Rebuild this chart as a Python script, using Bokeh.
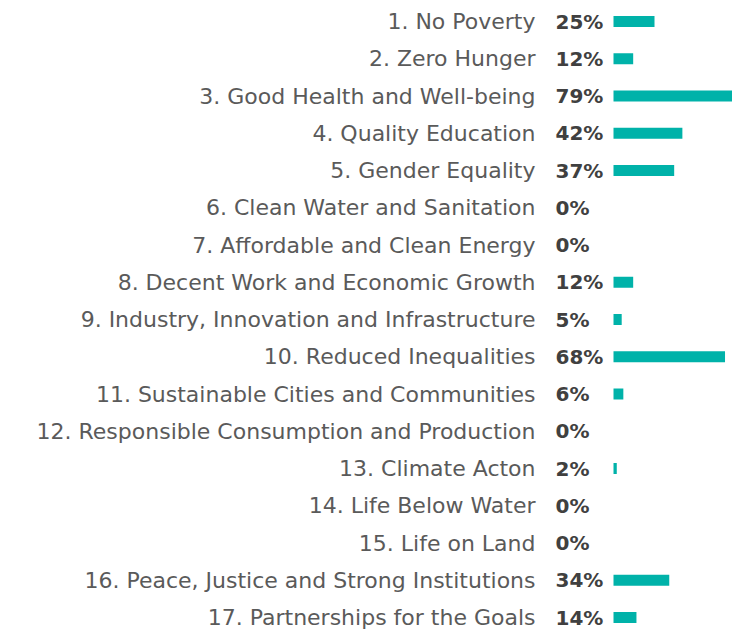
from bokeh.plotting import figure
from bokeh.models import ColumnDataSource, Range1d
from bokeh.embed import file_html
from bokeh.resources import INLINE
from bokeh.core.properties import value

goals = [
    "1. No Poverty",
    "2. Zero Hunger",
    "3. Good Health and Well-being",
    "4. Quality Education",
    "5. Gender Equality",
    "6. Clean Water and Sanitation",
    "7. Affordable and Clean Energy",
    "8. Decent Work and Economic Growth",
    "9. Industry, Innovation and Infrastructure",
    "10. Reduced Inequalities",
    "11. Sustainable Cities and Communities",
    "12. Responsible Consumption and Production",
    "13. Climate Acton",
    "14. Life Below Water",
    "15. Life on Land",
    "16. Peace, Justice and Strong Institutions",
    "17. Partnerships for the Goals",
]
percents = [25, 12, 79, 42, 37, 0, 0, 12, 5, 68, 6, 0, 2, 0, 0, 34, 14]

W, H = 732, 629
px_per_pct = 1.64
zero_px = 613
row_h = 37.25
first_row = 21

n = len(goals)
src = ColumnDataSource(dict(
    y=list(range(n)),
    v=percents,
    label=goals,
    pct=[f"{p}%" for p in percents],
    zero=[0] * n,
))

p = figure(width=W, height=H, output_backend="svg", toolbar_location=None,
           x_range=Range1d(-zero_px / px_per_pct, (W - zero_px) / px_per_pct),
           y_range=Range1d((n - 1) + (H - (first_row + (n - 1) * row_h)) / row_h,
                           -first_row / row_h),
           min_border=0, outline_line_color=None)
p.axis.visible = False
p.grid.visible = False

p.hbar(y="y", left="zero", right="v", height=11 / row_h, source=src,
       color="#00B2A9", line_color=None)

p.text(x="zero", y="y", text="label", source=src, x_offset=-78,
       text_align="right", text_baseline="middle",
       text_font=value("DejaVu Sans"), text_font_size="22px",
       text_color="#5a5a5a")
p.text(x="zero", y="y", text="pct", source=src, x_offset=-58,
       text_align="left", text_baseline="middle",
       text_font=value("DejaVu Sans"), text_font_size="20px",
       text_font_style="bold", text_color="#404040")

open("out.html", "w").write(file_html(p, INLINE))
